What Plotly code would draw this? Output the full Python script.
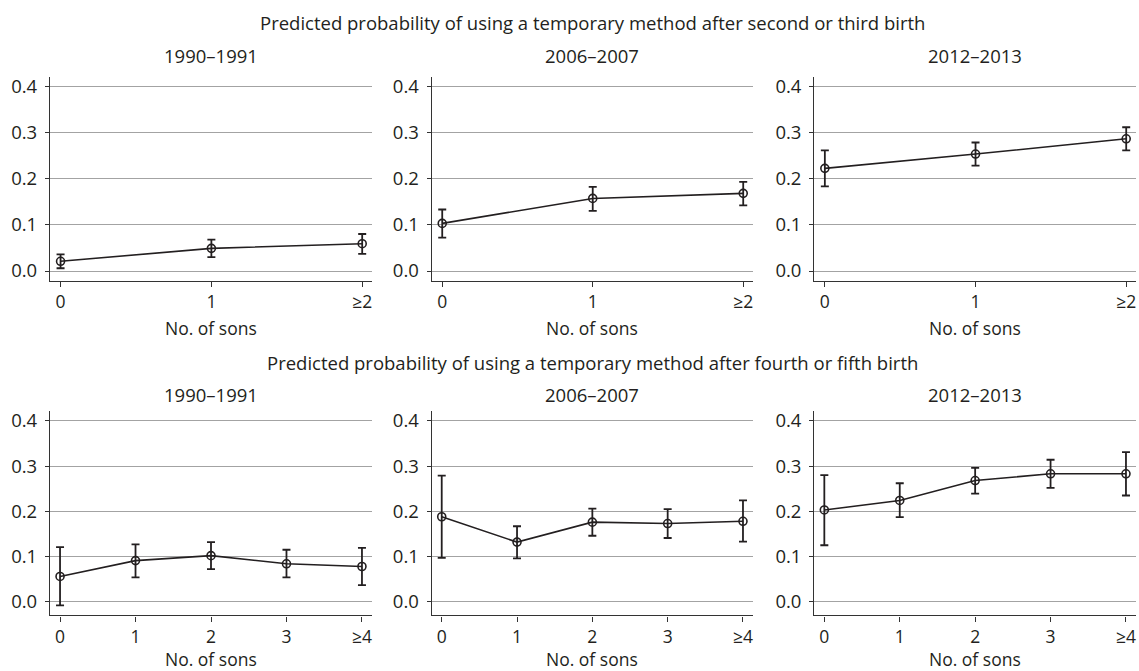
import plotly.graph_objects as go

# ---------------- data ----------------
periods = ["1990–1991", "2006–2007", "2012–2013"]

top_title = "Predicted probability of using a temporary method after second or third birth"
bottom_title = "Predicted probability of using a temporary method after fourth or fifth birth"

top_x = [0, 1, 2]
top_ticks = ["0", "1", "≥2"]
bottom_x = [0, 1, 2, 3, 4]
bottom_ticks = ["0", "1", "2", "3", "≥4"]

# second or third birth
top_1990_est = [0.021, 0.049, 0.059]
top_1990_hi = [0.036, 0.068, 0.080]
top_1990_lo = [0.006, 0.030, 0.037]

top_2006_est = [0.103, 0.157, 0.168]
top_2006_hi = [0.133, 0.182, 0.193]
top_2006_lo = [0.072, 0.130, 0.142]

top_2012_est = [0.222, 0.253, 0.286]
top_2012_hi = [0.261, 0.278, 0.311]
top_2012_lo = [0.183, 0.228, 0.261]

# fourth or fifth birth
bot_1990_est = [0.056, 0.091, 0.102, 0.084, 0.078]
bot_1990_hi = [0.121, 0.127, 0.132, 0.115, 0.119]
bot_1990_lo = [-0.008, 0.054, 0.072, 0.054, 0.037]

bot_2006_est = [0.188, 0.132, 0.176, 0.173, 0.178]
bot_2006_hi = [0.279, 0.167, 0.206, 0.205, 0.224]
bot_2006_lo = [0.097, 0.096, 0.146, 0.141, 0.133]

bot_2012_est = [0.203, 0.224, 0.268, 0.283, 0.283]
bot_2012_hi = [0.280, 0.262, 0.296, 0.314, 0.331]
bot_2012_lo = [0.125, 0.187, 0.239, 0.252, 0.235]

y_ticks = [0.0, 0.1, 0.2, 0.3, 0.4]
y_tick_labels = ["0.0", "0.1", "0.2", "0.3", "0.4"]
x_axis_label = "No. of sons"

# ---------------- layout helpers ----------------
W, H = 1139, 671
FONT = "Open Sans"
INK = "#231f20"
GRID = "#a3a3a3"
FS = 18.5      # titles, y tick labels
FS_X = 17.5    # x tick labels and x axis labels

def px(x):
    return x / W

def py(y):
    return 1 - y / H

col_px = [(50, 372), (431.7, 753), (814.3, 1136)]
row_px = [(73.3, 279.3), (410, 616)]
row_yrange = [(-0.0221, 0.4202), (-0.0301, 0.4219)]
row_xrange = [(-0.07, 2.065), (-0.133, 4.133)]

panels = [
    (0, 0, top_x, top_ticks, top_1990_est, top_1990_hi, top_1990_lo),
    (0, 1, top_x, top_ticks, top_2006_est, top_2006_hi, top_2006_lo),
    (0, 2, top_x, top_ticks, top_2012_est, top_2012_hi, top_2012_lo),
    (1, 0, bottom_x, bottom_ticks, bot_1990_est, bot_1990_hi, bot_1990_lo),
    (1, 1, bottom_x, bottom_ticks, bot_2006_est, bot_2006_hi, bot_2006_lo),
    (1, 2, bottom_x, bottom_ticks, bot_2012_est, bot_2012_hi, bot_2012_lo),
]

fig = go.Figure()
annotations = []
layout_axes = {}

for i, (r, c, xs, xt, est, hi, lo) in enumerate(panels):
    n = i + 1
    xa = "x" if n == 1 else f"x{n}"
    ya = "y" if n == 1 else f"y{n}"
    plus = [h - e for h, e in zip(hi, est)]
    minus = [e - l for e, l in zip(est, lo)]
    fig.add_trace(go.Scatter(
        x=xs, y=est, xaxis=xa, yaxis=ya,
        mode="lines+markers",
        line=dict(color=INK, width=1.6),
        marker=dict(symbol="circle-open", size=8, color=INK, line=dict(width=1.6, color=INK)),
        error_y=dict(type="data", array=plus, arrayminus=minus, visible=True,
                     color=INK, thickness=1.8, width=4),
        showlegend=False,
        cliponaxis=False,
    ))
    x0, x1 = col_px[c]
    y0, y1 = row_px[r]
    xkey = "xaxis" if n == 1 else f"xaxis{n}"
    ykey = "yaxis" if n == 1 else f"yaxis{n}"
    layout_axes[xkey] = dict(
        domain=[px(x0), px(x1)], anchor=ya, range=list(row_xrange[r]),
        tickmode="array", tickvals=xs, ticktext=xt,
        showgrid=False, zeroline=False, showline=True, linecolor="#333333", linewidth=1.3,
        ticks="outside", ticklen=5, tickwidth=1.2, tickcolor="#333333",
        tickfont=dict(family=FONT, size=FS_X, color=INK),
        ticklabelstandoff=0, fixedrange=True,
    )
    layout_axes[ykey] = dict(
        domain=[py(y1), py(y0)], anchor=xa, range=list(row_yrange[r]),
        tickmode="array", tickvals=y_ticks, ticktext=y_tick_labels,
        showgrid=True, gridcolor=GRID, gridwidth=1, zeroline=False,
        showline=True, linecolor="#333333", linewidth=1.3,
        ticks="outside", ticklen=4, tickwidth=1.2, tickcolor="#333333",
        tickfont=dict(family=FONT, size=FS, color=INK),
        ticklabelstandoff=4, fixedrange=True,
    )
    cx = (x0 + x1) / 2
    sub_y = 51.7 if r == 0 else 393
    lab_y = 326.7 if r == 0 else 660
    annotations.append(dict(text=periods[c], x=px(cx), y=py(sub_y), xref="paper", yref="paper",
                            xanchor="center", yanchor="middle", showarrow=False,
                            font=dict(family=FONT, size=FS, color=INK)))
    annotations.append(dict(text=x_axis_label, x=px(cx), y=py(lab_y), xref="paper", yref="paper",
                            xanchor="center", yanchor="middle", showarrow=False,
                            font=dict(family=FONT, size=FS_X, color=INK)))

annotations.append(dict(text=top_title, x=px(592), y=py(19), xref="paper", yref="paper",
                        xanchor="center", yanchor="middle", showarrow=False,
                        font=dict(family=FONT, size=FS, color=INK)))
annotations.append(dict(text=bottom_title, x=px(592), y=py(361), xref="paper", yref="paper",
                        xanchor="center", yanchor="middle", showarrow=False,
                        font=dict(family=FONT, size=FS, color=INK)))

fig.update_layout(
    width=W, height=H,
    margin=dict(l=0, r=0, t=0, b=0),
    paper_bgcolor="white", plot_bgcolor="white",
    annotations=annotations,
    **layout_axes,
)

fig.write_html(
    "out.html",
    config={"displayModeBar": False},
    post_script="document.body.style.margin='0';document.body.style.overflow='hidden';",
)
